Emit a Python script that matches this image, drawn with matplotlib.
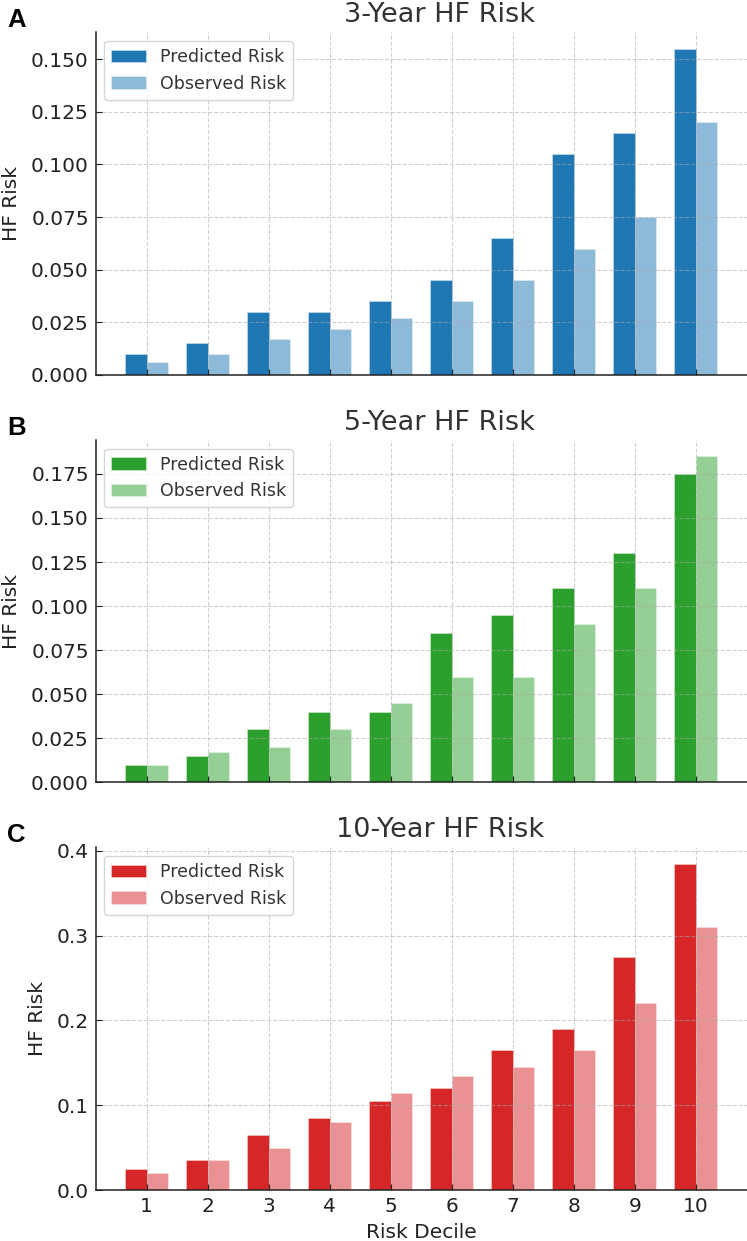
import matplotlib
matplotlib.use("Agg")
import matplotlib.pyplot as plt
import numpy as np

# ---------------- data ----------------
deciles = [1, 2, 3, 4, 5, 6, 7, 8, 9, 10]

pred_3y = [0.010, 0.015, 0.030, 0.030, 0.035, 0.045, 0.065, 0.105, 0.115, 0.155]
obs_3y = [0.006, 0.010, 0.017, 0.022, 0.027, 0.035, 0.045, 0.060, 0.075, 0.120]

pred_5y = [0.010, 0.015, 0.030, 0.040, 0.040, 0.085, 0.095, 0.110, 0.130, 0.175]
obs_5y = [0.010, 0.017, 0.020, 0.030, 0.045, 0.060, 0.060, 0.090, 0.110, 0.185]

pred_10y = [0.025, 0.035, 0.065, 0.085, 0.105, 0.120, 0.165, 0.190, 0.275, 0.385]
obs_10y = [0.020, 0.035, 0.050, 0.080, 0.115, 0.135, 0.145, 0.165, 0.220, 0.310]

titles = ["3-Year HF Risk", "5-Year HF Risk", "10-Year HF Risk"]
letters = ["A", "B", "C"]
colors = ["#1f77b4", "#2ca02c", "#d62728"]

# ---------------- figure ----------------
W, H = 747, 1241
fig = plt.figure(figsize=(W / 100, H / 100), dpi=100)

# axes boxes in pixels: (top, bottom)
boxes = [(32.3, 375.0), (440.0, 782.3), (847.3, 1190.0)]
left_px, right_px = 95.7, 746.6

x = np.array(deciles)
w = 0.35
series = [(pred_3y, obs_3y), (pred_5y, obs_5y), (pred_10y, obs_10y)]

for i, ((pred, obs), (top, bot)) in enumerate(zip(series, boxes)):
    ax = fig.add_axes([left_px / W, 1 - bot / H, (right_px - left_px) / W, (bot - top) / H])
    ax.bar(x - w / 2, pred, w, color=colors[i], edgecolor=(1, 1, 1, 0.6), linewidth=0.4,
           label="Predicted Risk", zorder=2)
    ax.bar(x + w / 2, obs, w, color=colors[i], alpha=0.5, edgecolor="white", linewidth=0.4,
           label="Observed Risk", zorder=2)

    ax.set_title(titles[i], fontsize=19.5, color="#333333", x=0.5285, pad=7.5)
    ax.set_ylabel("HF Risk", fontsize=14.5, color="#222222", labelpad=7)
    ax.set_xticks(deciles)
    ax.tick_params(direction="in", labelsize=14.5, colors="#222222", pad=5, length=4)
    if i < 2:
        ax.tick_params(axis="x", labelbottom=False)
    else:
        ax.set_xlabel("Risk Decile", fontsize=14.5, color="#222222", labelpad=5)
        ax.set_yticks([0.0, 0.1, 0.2, 0.3, 0.4])

    # grid sits on top of the bars, faint
    ax.grid(True, linestyle="--", color="#aaaaaa", alpha=0.55, linewidth=0.8, zorder=3)
    ax.set_axisbelow(False)
    for s in ["top", "right"]:
        ax.spines[s].set_visible(False)
    for s in ["left", "bottom"]:
        ax.spines[s].set_color("#222222")
        ax.spines[s].set_linewidth(1.1)
        ax.spines[s].set_zorder(4)

    leg = ax.legend(loc="upper left", fontsize=12.5, framealpha=0.8, edgecolor="#cccccc")
    leg.set_zorder(5)
    for t in leg.get_texts():
        t.set_color("#333333")

    fig.text(7 / W, 1 - (top - 24) / H, letters[i], fontsize=18.5, weight="bold",
             family="Liberation Sans", va="top", ha="left")

fig.savefig("out.png", dpi=100)
